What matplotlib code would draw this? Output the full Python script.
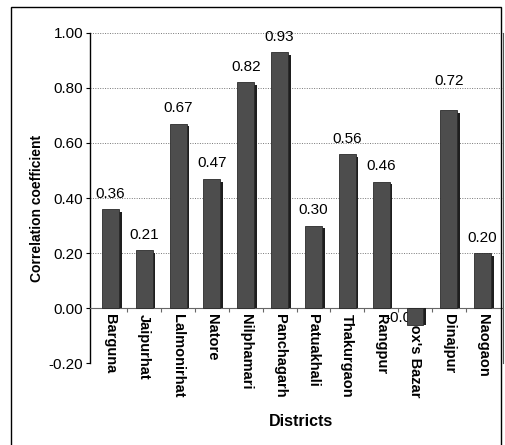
import matplotlib.pyplot as plt
from matplotlib.patches import Rectangle
from matplotlib.ticker import FixedLocator

plt.rcParams["font.family"] = ["Liberation Sans", "DejaVu Sans"]

# Data
districts = ["Barguna", "Jaipurhat", "Lalmonirhat", "Natore", "Nilphamari",
             "Panchagarh", "Patuakhali", "Thakurgaon", "Rangpur",
             "Cox's Bazar", "Dinajpur", "Naogaon"]
values = [0.36, 0.21, 0.67, 0.47, 0.82, 0.93, 0.30, 0.56, 0.46,
          -0.06, 0.72, 0.20]
value_labels = ["0.36", "0.21", "0.67", "0.47", "0.82", "0.93", "0.30",
                "0.56", "0.46", "-0.06", "0.72", "0.20"]
yticks = [-0.20, 0.00, 0.20, 0.40, 0.60, 0.80, 1.00]

fig = plt.figure(figsize=(5.06, 4.45), dpi=100)
ax = fig.add_axes([0.178, 0.184, 0.816, 0.742])

# outer frame of the figure
fig.patches.append(Rectangle((0.022, -0.02), 0.968, 1.004,
                             transform=fig.transFigure, fill=False,
                             edgecolor="black", linewidth=1.0))

x = list(range(len(districts)))
shadow_x = [i + 0.08 for i in x]
shadow_h = [v - 0.01 if v > 0 else v for v in values]

# shadow then main bar
ax.bar(shadow_x, shadow_h, width=0.5, color="#1e1e1e", zorder=3)
ax.bar(x, values, width=0.5, color="#4d4d4d", edgecolor="#2a2a2a",
       linewidth=0.6, zorder=4)

# value labels
for i, (v, lab) in enumerate(zip(values, value_labels)):
    if v < 0:
        ax.text(i - 0.35, -0.035, lab, ha="center", va="center",
                fontsize=11, zorder=2)
    else:
        extra = 10 if districts[i] == "Dinajpur" else 0
        ax.annotate(lab, (i, v), xytext=(0, 6 + extra),
                    textcoords="offset points", ha="center", va="bottom",
                    fontsize=11, zorder=5)

ax.set_xlim(-0.6, len(districts) - 0.4)
ax.set_ylim(-0.2, 1.0)

# axes styling
ax.spines["top"].set_visible(False)
ax.spines["right"].set_color("#555555")
ax.spines["right"].set_linewidth(0.8)
ax.spines["left"].set_color("black")
ax.spines["left"].set_linewidth(1.0)
ax.spines["bottom"].set_position(("data", 0))
ax.spines["bottom"].set_color("#666666")
ax.spines["bottom"].set_linewidth(0.8)

ax.set_yticks(yticks)
ax.set_yticklabels(["%.2f" % t for t in yticks], fontsize=11)
ax.yaxis.grid(True, linestyle=(0, (1, 1.5)), color="#777777",
              linewidth=0.7, zorder=0)
ax.set_axisbelow(True)
ax.tick_params(axis="y", length=3, width=0.8, pad=2)

ax.set_xticks(x)
ax.set_xticklabels(districts, rotation=270, fontsize=10.5,
                   fontweight="bold", va="top", ha="center")
ax.tick_params(axis="x", which="major", length=0, pad=4)
ax.xaxis.set_minor_locator(FixedLocator([i + 0.5 for i in x[:-1]]))
ax.tick_params(axis="x", which="minor", length=3, width=0.8,
               color="#666666")

ax.set_ylabel("Correlation coefficient", fontsize=10, fontweight="bold")
ax.yaxis.set_label_coords(-0.112, 0.467)
fig.text(301 / 506, 1 - 422 / 445, "Districts", ha="center", va="center",
         fontsize=11.5, fontweight="bold")

fig.savefig("out.png", dpi=100)
